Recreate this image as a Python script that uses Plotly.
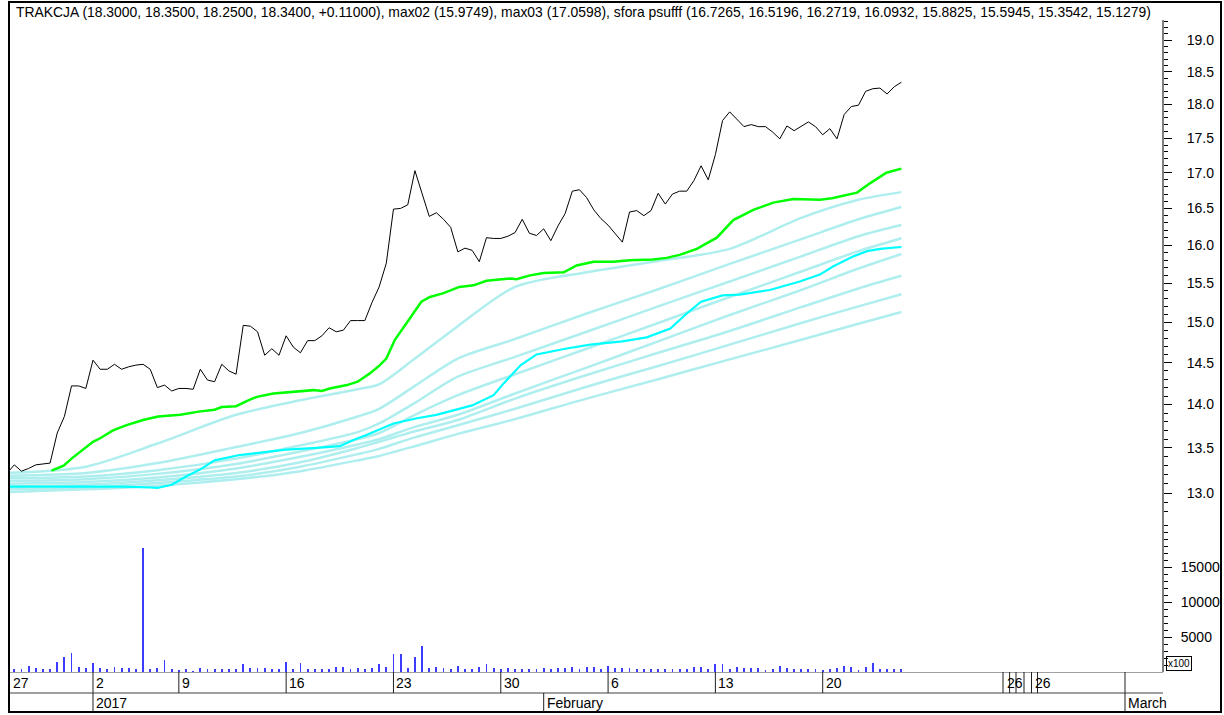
import math
import plotly.graph_objects as go

W, H = 1224, 715

# ---------------- data ----------------
title_text = ("TRAKCJA (18.3000, 18.3500, 18.2500, 18.3400, +0.11000), max02 (15.9749), "
              "max03 (17.0598), sfora psufff (16.7265, 16.5196, 16.2719, 16.0932, 15.8825, "
              "15.5945, 15.3542, 15.1279)")

close_x = list(range(-1, 125))
close = [13.22, 13.31, 13.24, 13.27, 13.31, 13.32, 13.33, 13.67, 13.86, 14.22, 14.22,
         14.19, 14.53, 14.42, 14.42, 14.48, 14.42, 14.45, 14.47, 14.48, 14.42,
         14.20, 14.23, 14.16, 14.19, 14.19, 14.18, 14.42, 14.29, 14.27, 14.48,
         14.40, 14.36, 14.96, 14.95, 14.88, 14.59, 14.67, 14.59, 14.83, 14.69,
         14.62, 14.77, 14.77, 14.83, 14.93, 14.88, 14.90, 15.02, 15.02, 15.02,
         15.25, 15.45, 15.76, 16.49, 16.50, 16.55, 17.03, 16.71, 16.39, 16.44,
         16.35, 16.24, 15.91, 15.96, 15.93, 15.78, 16.10, 16.09, 16.09, 16.12,
         16.17, 16.35, 16.16, 16.13, 16.22, 16.06, 16.26, 16.43, 16.74, 16.76,
         16.65, 16.48, 16.36, 16.27, 16.15, 16.04, 16.45, 16.47, 16.40, 16.47,
         16.71, 16.56, 16.70, 16.74, 16.74, 16.89, 17.10, 16.90, 17.26, 17.76,
         17.89, 17.78, 17.67, 17.70, 17.67, 17.67, 17.59, 17.49, 17.68, 17.61,
         17.68, 17.74, 17.67, 17.55, 17.64, 17.49, 17.85, 17.97, 17.99, 18.20,
         18.24, 18.25, 18.16, 18.27, 18.34]

vol_x = list(range(0, 125))
volume = [380, 380, 900, 570, 380, 380, 1480, 2190, 2760, 760,
          570, 1330, 570, 380, 760, 570, 570, 380, 17700, 380,
          570, 1670, 380, 240, 380, 190, 570, 380, 380, 380,
          380, 380, 1100, 570, 570, 570, 380, 380, 1480, 380,
          1290, 380, 380, 380, 380, 760, 760, 380, 570, 380,
          570, 1100, 760, 2570, 2570, 570, 2190, 3670, 570, 760,
          570, 380, 900, 380, 380, 760, 1100, 570, 380, 570,
          380, 380, 380, 380, 570, 380, 570, 570, 760, 380,
          760, 760, 380, 900, 570, 570, 570, 380, 380, 380,
          380, 380, 380, 380, 380, 760, 760, 380, 1100, 1100,
          380, 760, 570, 570, 570, 240, 380, 900, 570, 380,
          380, 380, 380, 240, 380, 570, 900, 760, 240, 760,
          1290, 380, 380, 380, 380]

max03_x = [5.2, 6.9, 8, 9.9, 11, 12, 13.8, 15.7, 18, 20.1, 23.2, 26, 28, 29, 31, 32.7, 33.9,
           36.2, 39, 41.8, 43, 44.1, 46.5, 48, 49.7, 51.1, 52, 53.2, 55.3, 56.9, 58.1, 60,
           62.2, 64.2, 66, 69.3, 70.2, 72.1, 74, 76.8, 78.6, 81, 83.7, 86, 89.3, 91.2, 93,
           95.4, 98.2, 100.5, 103.3, 106.1, 108.9, 110.8, 112.6, 114.3, 115.9, 117.8, 119.6,
           121.9, 124]
max03 = [13.245, 13.30, 13.38, 13.50, 13.57, 13.61, 13.70, 13.76, 13.82, 13.86, 13.88, 13.92,
         13.94, 13.97, 13.98, 14.05, 14.09, 14.13, 14.15, 14.17, 14.16, 14.19, 14.23, 14.27,
         14.37, 14.47, 14.55, 14.78, 15.05, 15.26, 15.32, 15.37, 15.45, 15.47, 15.53, 15.56,
         15.55, 15.60, 15.63, 15.64, 15.73, 15.78, 15.78, 15.80, 15.81, 15.83, 15.87, 15.95,
         16.10, 16.34, 16.48, 16.58, 16.63, 16.63, 16.62, 16.64, 16.68, 16.72, 16.85, 17.00,
         17.0598]

max02_x = [-1, 5, 10, 15, 19, 20, 22, 24, 26, 28, 31.5, 35.3, 38, 42.3, 45.5, 47.4, 49.3, 53,
           56.3, 59, 62, 64, 67, 68.4, 70.8, 73, 77, 80.5, 85, 88.4, 91.7, 94, 96, 99, 101.4,
           105.6, 109.8, 111.2, 112.6, 114.5, 117.3, 119.2, 121, 124]
max02 = [13.07, 13.07, 13.07, 13.07, 13.06, 13.055, 13.09, 13.18, 13.26, 13.36, 13.42, 13.46,
         13.48, 13.50, 13.52, 13.59, 13.65, 13.78, 13.84, 13.88, 13.95, 13.99, 14.11, 14.25,
         14.47, 14.60, 14.67, 14.72, 14.76, 14.81, 14.92, 15.11, 15.26, 15.34, 15.35, 15.41,
         15.52, 15.57, 15.61, 15.72, 15.85, 15.92, 15.95, 15.9749]

sfora_x = [-1, 10, 20, 31, 40, 48, 51, 56, 62, 70, 80, 90, 100, 110, 118, 124]
sfora1 = [13.22, 13.29, 13.55, 13.88, 14.05, 14.18, 14.24, 14.55, 14.95, 15.45, 15.64, 15.79, 15.95, 16.37, 16.62, 16.7265]
sfora2 = [13.19, 13.22, 13.33, 13.51, 13.67, 13.86, 13.95, 14.22, 14.55, 14.79, 15.11, 15.42, 15.75, 16.08, 16.35, 16.5196]
sfora3 = [13.16, 13.18, 13.25, 13.38, 13.53, 13.68, 13.78, 14.02, 14.33, 14.57, 14.88, 15.20, 15.52, 15.85, 16.12, 16.2719]
sfora4 = [13.13, 13.15, 13.21, 13.32, 13.46, 13.60, 13.67, 13.88, 14.11, 14.36, 14.67, 14.99, 15.32, 15.65, 15.92, 16.0932]
sfora5 = [13.10, 13.12, 13.17, 13.27, 13.40, 13.54, 13.60, 13.74, 13.88, 14.13, 14.44, 14.76, 15.09, 15.41, 15.69, 15.8825]
sfora6 = [13.07, 13.09, 13.14, 13.22, 13.34, 13.50, 13.57, 13.69, 13.82, 14.07, 14.35, 14.62, 14.89, 15.19, 15.43, 15.5945]
sfora7 = [13.04, 13.06, 13.11, 13.18, 13.29, 13.43, 13.49, 13.62, 13.76, 13.95, 14.21, 14.46, 14.72, 14.99, 15.20, 15.3542]
sfora8 = [13.01, 13.04, 13.08, 13.15, 13.24, 13.36, 13.41, 13.52, 13.66, 13.83, 14.07, 14.30, 14.54, 14.78, 14.98, 15.1279]
sfora_lines = [sfora1, sfora2, sfora3, sfora4, sfora5, sfora6, sfora7, sfora8]

price_ticks = [13.0, 13.5, 14.0, 14.5, 15.0, 15.5, 16.0, 16.5, 17.0, 17.5, 18.0, 18.5, 19.0]
price_minor = [round(12.7 + 0.1 * k, 1) for k in range(67)]
vol_ticks = [5000, 10000, 15000]
vol_minor = [1000 * k for k in range(1, 22)]

day_tick_idx = [23, 38, 53, 68, 83, 98, 113]
day_tick_text = ["9", "16", "23", "30", "6", "13", "20"]
year_idx, year_text = 11, "2017"
feb_idx, feb_text = 74, "February"

# ---------------- geometry helpers ----------------
X0_PX, STEP_PX = 14.3, 7.154          # pixel of bar 0, pixels per bar
PL, PR = 10, 1163                       # plot left / right pixel
def ix(px):
    return (px - X0_PX) / STEP_PX
def pyy(px):
    return 1 - px / H
def pxx(px):
    return px / W

# log price axis: 13 at 493px, 19 at 40px
k = (math.log10(19) - math.log10(13)) / (493 - 40)
p_top = math.log10(13) + (493 - 20) * k
p_bot = math.log10(13) - (520 - 493) * k
vol_top = (672 - 525) / 35 * 5000

FONT = "Liberation Sans, Arial, sans-serif"

fig = go.Figure()

for s in sfora_lines:
    fig.add_trace(go.Scatter(x=sfora_x, y=s, mode="lines", line_shape="spline",
                             line=dict(color="#afeeee", width=2.5, smoothing=0.8), yaxis="y"))
fig.add_trace(go.Scatter(x=max03_x, y=max03, mode="lines",
                         line=dict(color="#00ff00", width=2.5), yaxis="y"))
fig.add_trace(go.Scatter(x=max02_x, y=max02, mode="lines",
                         line=dict(color="#00ffff", width=2.2), yaxis="y"))
fig.add_trace(go.Scatter(x=close_x, y=close, mode="lines",
                         line=dict(color="#000000", width=1), yaxis="y"))
fig.add_trace(go.Bar(x=vol_x, y=volume, width=0.26, marker=dict(color="#3c3cff", line=dict(width=0)),
                     yaxis="y2"))

shapes = []
# outer frame
shapes.append(dict(type="rect", xref="paper", yref="paper", x0=pxx(9), x1=pxx(1221),
                   y0=pyy(712), y1=pyy(2), line=dict(color="black", width=2)))
# right axis line through both panels
shapes.append(dict(type="line", xref="paper", yref="paper", x0=pxx(PR), x1=pxx(PR),
                   y0=pyy(672), y1=pyy(20), line=dict(color="black", width=1)))
# date row / month row divider
shapes.append(dict(type="line", xref="paper", yref="paper", x0=pxx(PL), x1=pxx(PR),
                   y0=pyy(693), y1=pyy(693), line=dict(color="#404040", width=1)))
for t in day_tick_idx:
    shapes.append(dict(type="line", xref="x", yref="paper", x0=t, x1=t,
                       y0=pyy(693), y1=pyy(672), line=dict(color="#202020", width=1)))
# year / month separators
for t, full in [(year_idx, True), (feb_idx, False), (ix(1125), True)]:
    shapes.append(dict(type="line", xref="x", yref="paper", x0=t, x1=t,
                       y0=pyy(712), y1=pyy(672 if full else 693),
                       line=dict(color="#202020", width=1)))
# odd ticks in the empty future region
for px in [1003, 1009.6, 1016, 1024, 1031.5, 1037.5]:
    shapes.append(dict(type="line", xref="x", yref="paper", x0=ix(px), x1=ix(px),
                       y0=pyy(693), y1=pyy(672), line=dict(color="#202020", width=1)))

ann = []
ann.append(dict(text=title_text, x=pxx(14), y=pyy(12), xref="paper", yref="paper",
                xanchor="left", yanchor="middle", showarrow=False,
                font=dict(family=FONT, size=13.9, color="black")))
ann.append(dict(text="27", x=ix(PL), y=pyy(683), xref="x", yref="paper", xanchor="left",
                yanchor="middle", showarrow=False, xshift=1, font=dict(family=FONT, size=14, color="black")))
ann.append(dict(text="2", x=year_idx, y=pyy(683), xref="x", yref="paper", xanchor="left",
                yanchor="middle", showarrow=False, xshift=1, font=dict(family=FONT, size=14, color="black")))
for t, s in zip(day_tick_idx, day_tick_text):
    ann.append(dict(text=s, x=t, y=pyy(683), xref="x", yref="paper", xanchor="left",
                    yanchor="middle", showarrow=False, xshift=1, font=dict(family=FONT, size=14, color="black")))
for px in [1005, 1033]:
    ann.append(dict(text="26", x=ix(px), y=pyy(683), xref="x", yref="paper", xanchor="left",
                    yanchor="middle", showarrow=False, font=dict(family=FONT, size=14, color="black")))
for t, s in [(year_idx, year_text), (feb_idx, feb_text), (ix(1125), "March")]:
    ann.append(dict(text=s, x=t, y=pyy(703), xref="x", yref="paper", xanchor="left",
                    yanchor="middle", showarrow=False, xshift=1, font=dict(family=FONT, size=14, color="black")))
ann.append(dict(text="x100", x=pxx(1166), y=pyy(663), xref="paper", yref="paper",
                xanchor="left", yanchor="middle", showarrow=False, bordercolor="black",
                borderwidth=1, borderpad=1, font=dict(family=FONT, size=10, color="black")))

fig.update_layout(
    width=W, height=H, autosize=False,
    margin=dict(l=0, r=0, t=0, b=0),
    paper_bgcolor="white", plot_bgcolor="white",
    showlegend=False, hovermode=False, bargap=0,
    font=dict(family=FONT, size=13, color="black"),
    xaxis=dict(domain=[pxx(PL), pxx(PR)], range=[ix(PL), ix(PR)], anchor="y2",
               showticklabels=False, ticks="", showgrid=False, zeroline=False,
               showline=True, linecolor="#a0a0a0", linewidth=1),
    yaxis=dict(domain=[pyy(520), pyy(20)], type="log", range=[p_bot, p_top], anchor="x",
               side="right", showgrid=False, zeroline=False, showline=False,
               ticks="outside", ticklen=8, tickcolor="black", tickwidth=1,
               tickmode="array", tickvals=price_ticks, ticktext=[f"{v:.1f}" for v in price_ticks],
               tickfont=dict(family=FONT, size=14, color="black"), ticklabelstandoff=12,
               minor=dict(tickmode="array", tickvals=price_minor, ticks="outside", ticklen=4,
                          tickcolor="black", tickwidth=1, showgrid=False)),
    yaxis2=dict(domain=[pyy(672), pyy(525)], range=[0, vol_top], anchor="x",
                side="right", showgrid=False, zeroline=False, showline=False,
                ticks="outside", ticklen=8, tickcolor="black", tickwidth=1,
                tickmode="array", tickvals=vol_ticks, ticktext=[str(v) for v in vol_ticks],
                tickfont=dict(family=FONT, size=14, color="black"), ticklabelstandoff=6,
                minor=dict(tickmode="array", tickvals=vol_minor, ticks="outside", ticklen=4,
                           tickcolor="black", tickwidth=1, showgrid=False)),
    shapes=shapes, annotations=ann,
)

fig.write_html("out.html", config={"displayModeBar": False, "staticPlot": True},
               post_script="document.body.style.margin='0px';document.body.style.overflow='hidden';")
